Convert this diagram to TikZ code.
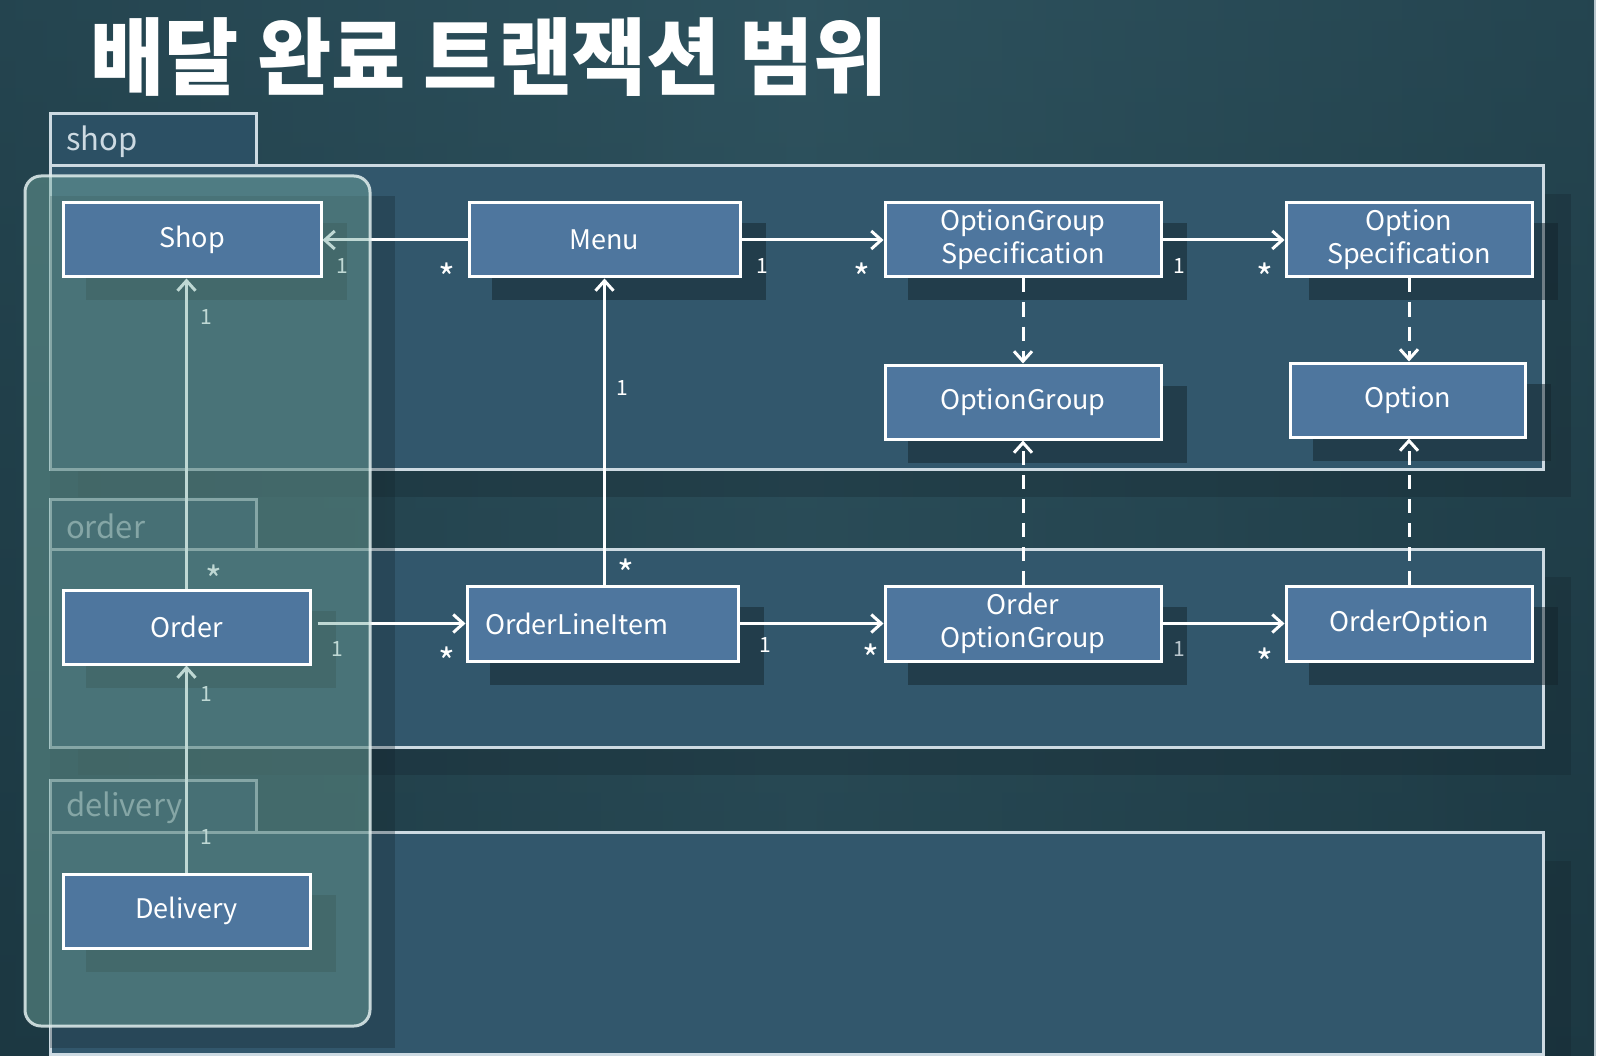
\documentclass[tikz,border=0pt]{standalone}
\usepackage{fontspec}
\usepackage{graphicx}
\usetikzlibrary{arrows.meta}
\newfontfamily\krfont{Noto Sans CJK KR}
\definecolor{bgA}{RGB}{46,82,94}
\definecolor{bgB}{RGB}{28,56,66}
\definecolor{pkgfill}{RGB}{50,87,108}
\definecolor{tabfill}{RGB}{44,80,100}
\definecolor{pkgline}{RGB}{205,218,226}
\definecolor{boxblue}{RGB}{78,118,158}
\definecolor{shadowc}{RGB}{20,36,44}
\definecolor{veilc}{RGB}{115,170,160}
\definecolor{veilline}{RGB}{225,238,238}
\definecolor{faint}{RGB}{185,198,205}
\pgfdeclarelayer{back}
\pgfdeclarelayer{shadows}
\pgfdeclarelayer{conns}
\pgfdeclarelayer{veil}
\pgfsetlayers{back,shadows,conns,veil,main}
\newcommand\boxshadow[1]{\fill[shadowbox] ([xshift=24pt,yshift=-22pt]#1.south west) rectangle ([xshift=24pt,yshift=-22pt]#1.north east);}
\tikzset{
 box/.style={draw=white, line width=3pt, fill=boxblue, text=white, inner sep=0pt, align=center, minimum height=74pt, font=\krfont\fontsize{27}{33}\selectfont},
 pkg/.style={draw=pkgline, line width=3pt, fill=pkgfill},
 pkgtab/.style={draw=pkgline, line width=3pt, fill=tabfill},
 tabtext/.style={text=pkgline, anchor=west, inner sep=0pt, font=\krfont\fontsize{31}{31}\selectfont},
 conn/.style={draw=white, line width=3pt, -{Straight Barb[length=10pt,width=18pt]}},
 dconn/.style={conn, dash pattern=on 14pt off 10pt},
 mult/.style={text=white, inner sep=0pt, font=\krfont\fontsize{21}{21}\selectfont},
 ast/.style={text=white, inner sep=0pt, yshift=-9pt, font=\krfont\fontsize{36}{36}\selectfont},
 shadowbox/.style={fill=shadowc, opacity=0.5},
 pkgshadow/.style={fill=shadowc, opacity=0.3},
}
\begin{document}
\begin{tikzpicture}[x=1pt,y=-1pt]
\useasboundingbox (0,0) rectangle (1602,1056);
\begin{pgfonlayer}{back}
 \shade[top color=bgA, bottom color=bgB] (0,0) rectangle (1602,1056);
 \shade[left color=bgB, right color=bgB, middle color=bgA, opacity=0.5] (0,0) rectangle (1602,1056);
 \fill[white] (1596,0) rectangle (1602,1056);
 \draw[faint, line width=1.5pt] (1595,0) -- (1595,1056);
 % package shadows
 \fill[pkgshadow] (78,194) rectangle (1571,497);
 \fill[pkgshadow] (78,577) rectangle (1571,775);
 \fill[pkgshadow] (78,861) rectangle (1571,1056);
 % shop package
 \draw[pkgtab] (50,114) rectangle (256,166);
 \draw[pkg] (50,166) rectangle (1543,469);
 \node[tabtext] (shoptab) at (66,142) {shop};
 % order package
 \draw[pkgtab] (50,499) rectangle (256,549);
 \draw[pkg] (50,549) rectangle (1543,747);
 \node[tabtext] (ordertab) at (66,526) {order};
 % delivery package
 \draw[pkgtab] (50,780) rectangle (256,832);
 \draw[pkg] (50,832) rectangle (1543,1054);
 \node[tabtext] (deliverytab) at (66,808) {delivery};
\end{pgfonlayer}

\node[text=white, anchor=west, inner sep=0pt] (title) at (90,57)
 {\scalebox{0.96}[1]{\krfont\bfseries\fontsize{84}{84}\selectfont 배달 완료 트랜잭션 범위}};

% boxes
\node[box, minimum width=258pt] (Shop) at (192,240) {Shop};
\node[box, minimum width=271pt] (Menu) at (604.5,240) {Menu};
\node[box, minimum width=276pt] (OGS) at (1023,240) {OptionGroup\\Specification};
\node[box, minimum width=246pt] (OS) at (1409,240) {Option\\Specification};
\node[box, minimum width=276pt] (OG) at (1023,402) {OptionGroup};
\node[box, minimum width=235pt] (Opt) at (1407.5,400) {Option};
\node[box, minimum width=247pt] (Order) at (186.5,627) {Order};
\node[box, minimum width=271pt, minimum height=75pt] (OLI) at (602.5,623.5) {\makebox[235pt][l]{OrderLineItem}};
\node[box, minimum width=276pt, minimum height=75pt] (OOG) at (1023,623.5) {Order\\OptionGroup};
\node[box, minimum width=246pt, minimum height=75pt] (OO) at (1409,623.5) {OrderOption};
\node[box, minimum width=247pt] (Delivery) at (186.5,911) {Delivery};

\begin{pgfonlayer}{shadows}
 \fill[pkgshadow] (50,196) rectangle (395,1048);
 \boxshadow{Shop}\boxshadow{Menu}\boxshadow{OGS}\boxshadow{OS}
 \boxshadow{OG}\boxshadow{Opt}\boxshadow{Order}\boxshadow{OLI}
 \boxshadow{OOG}\boxshadow{OO}\boxshadow{Delivery}
\end{pgfonlayer}

\begin{pgfonlayer}{conns}
 \draw[conn] (Menu.west) -- (Shop.east);
 \draw[conn] (Menu.east) -- (OGS.west);
 \draw[conn] (OGS.east) -- (OS.west);
 \draw[dconn] (OGS.south) -- (OG.north);
 \draw[dconn] (OS.south) -- (OS.south |- Opt.north);
 \draw[dconn] (OOG.north) -- (OG.south);
 \draw[dconn] (OO.north) -- (OO.north |- Opt.south);
 \draw[conn] (OLI.north -| Menu.south) -- (Menu.south);
 \draw[conn] ([xshift=6pt]Order.east |- OLI.west) -- (OLI.west);
 \draw[conn] (OLI.east) -- (OOG.west);
 \draw[conn] (OOG.east) -- (OO.west);
 \draw[conn] (Order.north) -- (Order.north |- Shop.south);
 \draw[conn] (Delivery.north) -- (Order.south);
 % multiplicities
 \node[mult] (m1) at (342,266) {1};
 \node[ast] (m2) at (447,268) {*};
 \node[mult] (m3) at (762,266) {1};
 \node[ast] (m4) at (862,268) {*};
 \node[mult] (m5) at (1179,266) {1};
 \node[ast] (m6) at (1265,268) {*};
 \node[mult] (m7) at (622,388) {1};
 \node[ast] (m8) at (626,564) {*};
 \node[mult] (m9) at (337,649) {1};
 \node[ast] (m10) at (447,652) {*};
 \node[mult] (m11) at (765,645) {1};
 \node[ast] (m12) at (871,649) {*};
 \node[mult, text=faint] (m13) at (1179,649) {1};
 \node[ast] (m14) at (1265,653) {*};
 \node[mult] (m15) at (206,317) {1};
 \node[ast] (m16) at (214,570) {*};
 \node[mult] (m17) at (206,694) {1};
 \node[mult] (m18) at (206,837) {1};
\end{pgfonlayer}

\begin{pgfonlayer}{veil}
 \fill[veilc, opacity=0.45, rounded corners=16pt] (25,176) rectangle (370,1026);
 \draw[veilline, opacity=0.85, line width=3pt, rounded corners=16pt] (25,176) rectangle (370,1026);
\end{pgfonlayer}
\end{tikzpicture}
\end{document}
